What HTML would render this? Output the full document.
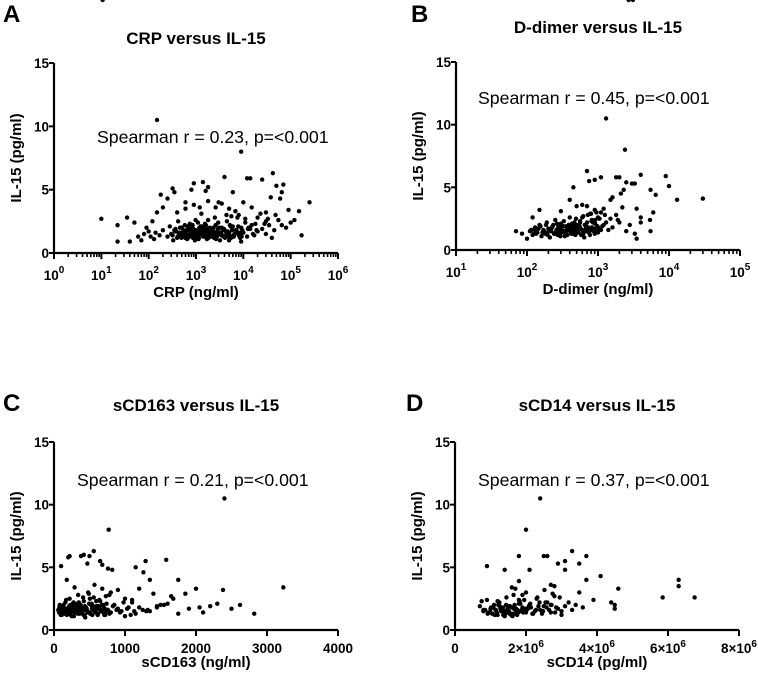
<!DOCTYPE html>
<html><head><meta charset="utf-8"><style>
body{margin:0;background:#fff;}
svg{display:block;font-family:"Liberation Sans",Arial,sans-serif;}
.t{font-weight:bold;font-size:17px;}
.lab{font-weight:bold;font-size:15px;}
.tk{font-weight:bold;font-size:13.5px;}
.sp{font-size:17.7px;}
.pl{font-weight:bold;font-size:24px;}
</style></head><body>
<svg id="fig" width="758" height="675" viewBox="0 0 758 675"></svg>
<script>
// ---- data ----
const yTicks=[0,5,10,15];
const crpTicks=[0,1,2,3,4,5,6];
const ddTicks=[1,2,3,4,5];
const cd163Ticks=[0,1000,2000,3000,4000];
const cd14Ticks=[0,2,4,6,8];
const crpX=[150,9000,10,22,22,35,40,50,60,70,100,120,130,150,180,200,250,320,350,400,600,800,900,1200,1400,1600,1800,3000,4000,5000,6000,10000,12000,14000,25000,30000,38000,42000,50000,60000,65000,70000,90000,100000,150000,170000,250000,80000,40000,20000,8000,15000,30000,5000,9000,
300,350,400,450,500,550,600,650,700,750,800,850,900,950,1000,1050,1100,1150,1200,1300,1400,1500,1600,1700,1800,1900,2000,2200,2400,2600,2800,3000,3200,3500,3800,4000,4500,5000,5500,6000,6500,7000,7500,8000,9000,10000,11000,12000,14000,16000,18000,20000,250,280,330,380,420,480,520,580,620,680,720,780,820,880,930,980,1020,1080,1130,1250,1350,1450,1550,1650,1750,1850,2100,2300,2500,2700,2900,3300,3600,4200,4800,5200,5800,6200,7200,8500,9500,13000,17000,25000,30000,35000,45000,55000,200,170,140,110,90,80,
320,370,430,490,540,610,660,710,760,840,910,970,1060,1160,1220,1320,1420,1520,1620,1720,1820,1950,2050,2250,2450,2650,2850,3100,3400,3700,4100,4400,4700,5100,5600,6300,6800,7800,8800,11000,15000,19000,23000,28000,33000,48000,65000,120000,
360,410,460,530,590,640,690,740,790,860,940,1010,1090,1180,1280,1380,1480,1580,1680,1780,1880,2150,2350,2550,2750,2950,3400,3900,4300,4900,5400,6100,7100,8100,9200,12500,600,900,1300,1800,2600,3500];
const crpY=[10.5,8,2.7,2.2,0.9,2.8,0.9,2.4,1.3,1.0,1.7,2.5,1.1,3.2,4.6,3.6,4.3,5.1,4.8,3.2,4.0,5.0,5.5,3.6,5.6,4.9,5.2,4.0,6.0,3.5,4.8,4.0,5.9,5.9,5.8,3.2,4.4,6.3,5.3,4.3,4.8,5.4,3.4,2.4,3.3,1.4,4.0,2.0,1.2,2.8,3.0,2.2,2.5,1.0,0.9,
1.5,1.8,1.2,1.6,2.0,1.4,1.7,1.1,1.9,1.5,1.3,2.2,1.6,1.0,1.8,1.4,2.4,1.2,1.7,1.5,2.0,1.3,1.8,1.1,2.6,1.6,1.4,1.9,1.2,2.2,1.7,1.5,1.0,2.0,1.3,1.8,2.5,1.6,1.2,2.1,1.5,1.8,2.8,1.4,2.0,1.6,2.4,1.3,1.9,1.5,2.3,1.7,1.3,2.1,1.0,1.7,2.5,1.3,1.6,2.2,1.5,1.2,2.0,1.7,1.4,1.9,1.2,2.6,1.5,1.7,1.1,2.1,1.6,1.4,2.3,1.5,1.9,1.2,1.7,1.5,2.8,1.3,1.9,1.6,1.4,1.7,1.3,2.2,1.8,1.4,1.6,1.2,1.8,2.0,1.4,1.9,1.5,2.2,1.8,2.6,1.8,1.4,1.6,1.3,2.0,1.5,
1.4,1.9,1.6,1.2,1.8,1.5,2.1,1.3,1.6,1.9,1.4,1.7,1.2,1.8,1.5,2.1,1.3,1.7,2.2,1.4,1.6,2.0,1.3,1.8,1.5,1.1,1.6,2.0,1.4,1.8,1.2,3.0,1.7,1.4,2.9,1.3,3.3,2.1,1.5,2.7,3.6,1.8,3.1,2.3,2.7,3.0,2.2,2.6,
1.7,1.3,2.0,1.5,1.2,1.8,1.4,2.3,1.6,1.2,1.8,1.5,1.3,2.0,1.7,1.4,1.9,1.6,1.2,1.7,1.5,1.4,2.0,1.6,1.3,2.4,1.5,1.9,1.4,1.6,2.1,1.3,1.8,1.6,1.3,1.9,3.5,3.8,3.1,4.1,3.6,3.9];
const ddX=[1300,2400,70,85,100,120,150,300,400,450,500,600,700,750,900,1100,1500,1800,2000,2300,2500,3000,3300,4000,5500,6000,6500,9000,10000,13000,30000,5500,5400,4000,3500,3300,2500,2000,1800,1500,1200,2800,3500,4000,1600,2100,
110,120,130,140,150,160,170,180,190,200,210,220,230,240,250,260,270,280,290,300,320,340,360,380,400,420,440,460,480,500,530,560,600,640,680,720,760,800,850,900,950,1000,1050,1100,115,135,155,175,195,215,235,255,275,295,310,330,350,370,390,410,430,450,470,490,520,550,580,620,660,700,740,780,820,870,920,980,1200,1400,700,800,900,600,500,1000,
125,145,165,185,205,225,245,265,285,305,325,345,365,385,405,425,445,465,485,510,540,570,610,650,690,730,770,810,860,910,960,1020,1150,1300,130,180,220,260,300,340,380,420,460,500,560,620,680,740,820,900,1000,1100,1250,1600,1900,2200,2700,3100];
const ddY=[10.5,8,1.5,1.3,0.9,2.6,3.2,3.1,4.0,5.0,3.5,3.6,6.3,5.5,5.6,5.8,4.0,5.8,5.8,4.8,5.4,5.3,5.3,6.0,4.8,3.0,4.4,5.9,5.1,4.0,4.1,1.5,2.4,2.6,0.9,1.3,1.5,2.2,2.8,2.5,3.3,2.0,3.3,2.2,4.2,4.5,
1.5,1.2,1.8,1.4,2.0,1.1,1.6,1.3,2.2,1.7,1.0,1.5,1.9,1.3,2.4,1.6,1.2,1.8,1.4,2.1,1.5,1.1,1.9,1.6,2.6,1.3,1.7,2.0,1.2,1.8,1.4,2.3,1.6,1.0,1.9,2.8,1.5,1.7,2.2,1.3,3.0,1.8,2.5,1.6,1.6,1.3,1.9,1.5,1.2,1.7,2.0,1.4,1.8,1.1,1.6,2.3,1.4,1.2,1.9,1.5,2.1,1.3,1.7,2.5,1.4,1.9,1.2,2.7,1.6,2.2,1.4,2.9,1.8,1.5,2.4,1.9,2.0,1.6,3.5,2.9,3.2,2.6,2.0,1.4,
1.3,1.7,1.4,2.0,1.5,1.8,1.3,2.1,1.6,1.4,1.9,1.2,1.7,2.0,1.5,1.8,1.3,2.2,1.6,1.4,1.9,1.7,1.3,2.0,1.5,1.8,1.2,2.3,1.6,2.1,1.4,1.7,1.9,2.2,1.6,1.4,1.7,1.3,1.9,1.5,1.8,2.0,1.4,1.6,2.2,1.3,1.8,1.5,2.4,1.7,2.6,3.0,2.8,1.8,2.4,3.4];
const cdX=[2400,770,100,180,200,220,380,420,470,500,560,650,680,760,820,1150,1260,1290,1350,1580,1750,2000,2380,3230,2820,2620,2500,2300,2200,2050,1850,1680,1550,1400,1300,1200,1100,1000,900,800,1750,1650,1450,1350,
60,80,100,120,140,160,180,200,220,240,260,280,300,320,340,360,380,400,420,440,460,480,500,520,540,560,580,600,620,640,660,680,700,720,740,760,780,800,850,900,950,70,90,110,130,150,170,190,210,230,250,270,290,310,330,350,370,390,410,430,450,470,490,510,530,550,570,590,610,630,650,670,690,710,730,750,1000,1050,1100,1150,1250,1450,1600,1900,2100,
75,95,115,135,155,175,195,215,235,255,275,295,315,335,355,375,395,415,435,455,475,495,515,535,555,575,595,615,635,655,675,695,715,735,780,830,880,930,980,1030,1080,1130,1200,1320,1500,85,145,205,265,325,385,445,505,565,625,685];
const cdY=[10.5,8,5.1,4.0,5.8,5.9,5.9,6.0,5.3,5.9,6.3,5.5,5.2,4.9,4.8,5.0,4.6,5.5,4.0,5.6,4.0,3.3,3.2,3.4,1.3,2.0,1.7,2.1,1.9,1.8,2.9,2.5,2.0,2.9,1.5,3.3,2.4,1.1,3.2,3.0,1.3,2.7,1.8,1.5,
1.6,2.0,1.3,1.8,1.5,2.2,1.2,1.7,2.5,1.4,1.9,1.1,2.1,1.6,2.8,1.3,1.8,1.5,2.3,1.0,1.7,3.0,1.4,2.0,1.2,2.6,1.6,1.9,1.3,2.4,1.5,3.3,1.8,1.2,2.1,1.6,2.8,1.4,2.0,1.7,1.5,1.4,1.7,1.2,1.9,1.5,2.4,1.3,1.8,2.0,1.1,1.6,3.4,1.4,1.9,2.2,1.5,1.7,2.6,1.2,1.8,1.5,2.9,1.3,2.1,1.6,3.6,1.4,1.9,1.7,2.3,1.5,2.0,1.2,2.7,1.6,2.5,1.8,2.2,1.3,1.6,1.9,2.1,1.7,
1.4,1.8,1.2,1.6,2.0,1.3,1.7,1.5,1.9,1.2,1.6,2.2,1.4,1.8,1.3,1.7,2.0,1.5,1.2,1.9,1.6,1.4,2.1,1.3,1.7,1.9,1.5,2.3,1.2,1.8,1.6,2.0,1.4,1.7,1.5,1.3,1.9,1.6,1.4,2.2,1.7,1.2,1.5,1.8,1.6,2.0,1.8,1.5,1.7,2.1,1.9,1.4,1.6,2.5,1.8,1.9];
const d14X=[2.4,2.0,0.9,1.4,1.8,2.1,2.5,2.6,2.9,3.1,3.1,3.3,3.5,3.7,3.7,4.1,4.6,5.85,6.3,6.3,6.75,4.4,4.5,4.5,3.9,3.6,3.5,3.4,3.0,2.8,2.7,1.8,2.0,1.6,1.2,
0.7,0.8,0.9,1.0,1.05,1.1,1.15,1.2,1.25,1.3,1.35,1.4,1.45,1.5,1.55,1.6,1.65,1.7,1.75,1.8,1.85,1.9,1.95,2.0,2.05,2.1,2.2,2.3,2.4,2.5,2.6,2.7,2.8,2.9,3.0,0.75,0.85,0.95,1.02,1.12,1.22,1.32,1.42,1.52,1.62,1.72,1.82,1.92,2.02,2.12,2.25,2.35,2.45,2.55,2.65,2.75,2.85,1.38,1.48,1.58,1.68,1.78,1.88,
0.8,0.92,1.08,1.18,1.28,1.36,1.44,1.52,1.6,1.68,1.76,1.84,1.92,2.0,2.08,2.18,2.28,2.38,2.48,2.58,2.7,2.82,2.95,3.1,1.0,1.14,1.26,1.4,1.54,1.66,1.8,1.96,2.14,2.32,2.52,2.72,3.2,3.3,1.7,1.9];
const d14Y=[10.5,8,5.1,4.8,5.9,4.8,5.9,5.9,5.3,5.5,4.8,6.3,5.3,5.9,4.0,4.3,3.3,2.6,4.0,3.5,2.6,2.2,2.0,1.7,2.4,1.8,3.0,2.0,1.5,3.5,3.6,3.9,3.0,3.4,2.3,
1.9,1.5,2.4,1.7,1.3,2.0,1.6,1.2,2.2,1.5,1.8,1.1,2.6,1.4,1.9,1.3,2.8,1.6,1.2,2.1,1.5,1.8,2.4,1.4,1.7,2.0,1.3,2.5,1.6,1.9,2.2,1.4,2.7,1.7,1.2,2.3,1.6,1.4,1.8,1.2,2.0,1.5,1.3,1.9,1.1,1.7,2.3,1.4,1.6,2.1,1.5,1.9,1.3,2.2,1.6,2.9,1.8,1.5,1.7,1.2,2.0,1.4,1.6,
1.6,1.3,1.8,1.4,1.7,1.2,2.0,1.5,1.8,1.3,1.6,2.1,1.4,1.7,1.9,1.3,1.6,2.2,1.5,1.8,2.0,1.4,2.6,1.9,1.4,1.6,1.9,1.5,1.3,1.7,2.4,1.5,1.8,2.6,3.2,2.0,2.2,1.6,3.3,2.8];

const NS="http://www.w3.org/2000/svg";
const svg=document.getElementById('fig');
function mk(tag,attrs,parent,text){const e=document.createElementNS(NS,tag);for(const k in attrs)e.setAttribute(k,attrs[k]);if(text!==undefined)e.textContent=text;(parent||svg).appendChild(e);return e;}

function panel(p){
  const g=mk('g',{});
  
  
  const L=p.x0,R=p.x1,T=p.yTop,B=p.yBot;
  const sy=v=>B-(v/15)*(B-T);
  const sx=v=>p.log? L+(Math.log10(v)-p.dmin)/(p.dmax-p.dmin)*(R-L) : L+(v-p.dmin)/(p.dmax-p.dmin)*(R-L);
  const pl=mk('text',{x:p.lx,y:p.ly,class:'pl'},g,p.id);
  
  
  const t=mk('text',{x:(L+R)/2,y:p.ty,class:'t','text-anchor':'middle'},g,p.title);
  
  
  const ax=mk('path',{d:`M${L},${T} V${B} H${R}`,stroke:'#000','stroke-width':2.2,fill:'none'},g);
  
  
  yTicks.forEach(v=>{
    mk('line',{x1:L-5,x2:L,y1:sy(v),y2:sy(v),stroke:'#000','stroke-width':2},g);
    const tx=mk('text',{x:L-5,y:sy(v)+5,class:'tk','text-anchor':'end'},g,v);
    
    
  });
  p.ticks.forEach(v=>{
    const X=p.log? L+(v-p.dmin)/(p.dmax-p.dmin)*(R-L) : sx(v*p.tscale);
    mk('line',{x1:X,x2:X,y1:B,y2:B+6,stroke:'#000','stroke-width':2},g);
    const tx=mk('text',{x:X,y:B+(p.log?27:23),class:'tk','text-anchor':'middle'},g);
    
    
    if(p.log){mk('tspan',{},tx,'10');mk('tspan',{dy:-7,'font-size':'10px'},tx,v);}
    else if(p.sci&&v!==0){mk('tspan',{},tx,v+'×10');mk('tspan',{dy:-6,'font-size':'10px'},tx,'6');}
    else tx.textContent=v;
  });
  if(p.log){for(let d=p.dmin;d<p.dmax;d++)for(let m=2;m<10;m++){const X=sx(m*Math.pow(10,d));mk('line',{x1:X,x2:X,y1:B,y2:B+4,stroke:'#000','stroke-width':1.6},g);}}
  const xl=mk('text',{x:(L+R)/2,y:p.xly,class:'lab','text-anchor':'middle'},g,p.xlab);
  
  
  const yl=mk('text',{x:0,y:0,class:'lab','text-anchor':'middle',transform:`translate(${L-33},${(T+B)/2}) rotate(-90)`},g,'IL-15 (pg/ml)');
  
  
  const s=mk('text',{x:p.sx,y:p.sy,class:'sp'},g,p.stat);
  
  
  p.xs.forEach((xv,i)=>{
    const c=mk('circle',{cx:sx(xv*p.xscale),cy:sy(p.ys[i]),r:2.2,fill:'#000'},g);
    
    
  });
}
panel({id:'A',x0:54,x1:338,yTop:63,yBot:253,log:true,dmin:0,dmax:6,ticks:crpTicks,xs:crpX,ys:crpY,xscale:1,title:'CRP versus IL-15',xlab:'CRP (ng/ml)',xly:297,stat:'Spearman r = 0.23, p=<0.001',lx:3,ly:22,ty:44,sx:97,sy:143});
panel({id:'B',x0:456,x1:740,yTop:62,yBot:250,log:true,dmin:1,dmax:5,ticks:ddTicks,xs:ddX,ys:ddY,xscale:1,title:'D-dimer versus IL-15',xlab:'D-dimer (ng/ml)',xly:294,stat:'Spearman r = 0.45, p=<0.001',lx:411,ly:22,ty:33,sx:478,sy:104});
panel({id:'C',x0:54,x1:338,yTop:442,yBot:630,log:false,dmin:0,dmax:4000,tscale:1,ticks:cd163Ticks,xs:cdX,ys:cdY,xscale:1,title:'sCD163 versus IL-15',xlab:'sCD163 (ng/ml)',xly:667,stat:'Spearman r = 0.21, p=<0.001',lx:3,ly:411,ty:411,sx:77,sy:486});
panel({id:'D',x0:455,x1:739,yTop:442,yBot:630,log:false,sci:true,dmin:0,dmax:8e6,tscale:1e6,ticks:cd14Ticks,xs:d14X,ys:d14Y,xscale:1e6,title:'sCD14 versus IL-15',xlab:'sCD14 (pg/ml)',xly:667,stat:'Spearman r = 0.37, p=<0.001',lx:406,ly:411,ty:411,sx:478,sy:486});
</script>
</body></html>
